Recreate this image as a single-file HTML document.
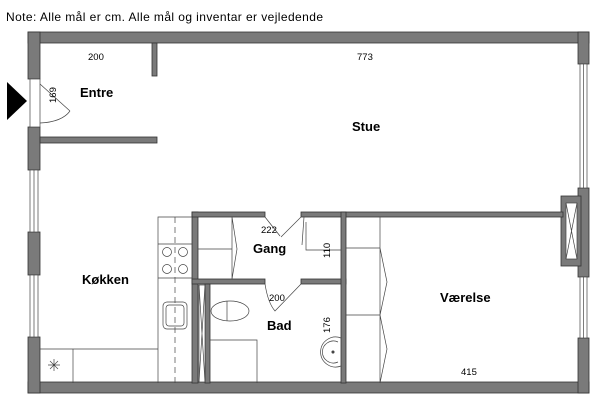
<!DOCTYPE html>
<html><head><style>
body{margin:0;background:#fff;width:600px;height:403px;overflow:hidden}
svg text{font-family:"Liberation Sans",sans-serif}
</style></head><body>
<svg width="600" height="403" viewBox="0 0 600 403" xmlns="http://www.w3.org/2000/svg">
<text x="6" y="21" font-size="12" textLength="317" lengthAdjust="spacing">Note: Alle mål er cm. Alle mål og inventar er vejledende</text>
<g fill="#7a7a7a" stroke="#333" stroke-width="0.8">
<rect x="28" y="32" width="561" height="11"/>
<rect x="28" y="382" width="561" height="11"/>
<rect x="28" y="32" width="12" height="47"/>
<rect x="28" y="127" width="12" height="43"/>
<rect x="28" y="232" width="12" height="43"/>
<rect x="28" y="337" width="12" height="56"/>
<rect x="578" y="32" width="11" height="32"/>
<rect x="578" y="188" width="11" height="89"/>
<rect x="578" y="338" width="11" height="55"/>
<rect x="561" y="196" width="20" height="70"/>
<rect x="152" y="43" width="5" height="33"/>
<rect x="40" y="137" width="117" height="6"/>
<rect x="192" y="212" width="6" height="171"/>
<rect x="192" y="212" width="73" height="5"/>
<rect x="301" y="212" width="262" height="5"/>
<rect x="192" y="279" width="73" height="5"/>
<rect x="301" y="279" width="45" height="5"/>
<rect x="341" y="212" width="5" height="171"/>
<rect x="205" y="284" width="5" height="99"/>
</g>
<g fill="#fff" stroke="#444" stroke-width="0.7">
<rect x="566" y="203" width="11" height="56"/>
<rect x="199" y="285" width="6" height="97"/>
<rect x="30" y="170" width="8" height="62"/><rect x="30" y="275" width="8" height="62"/>
<rect x="580" y="64" width="7" height="124"/><rect x="580" y="277" width="7" height="61"/>
<rect x="30" y="79" width="10" height="48"/>
</g>
<g fill="none" stroke="#444" stroke-width="0.7">
<line x1="34" y1="170" x2="34" y2="232"/><line x1="34" y1="275" x2="34" y2="337"/>
<line x1="583.5" y1="64" x2="583.5" y2="188"/><line x1="583.5" y1="277" x2="583.5" y2="338"/>
<path d="M566 203L577 259M577 203L566 259M199 285L205 382M205 285L199 382"/>
<path d="M40 84L70 111M40 123Q62 122 70 111"/>
<path d="M158 383V217H192M158 244H192M158 278H192M40 349H158M73 349V383"/>
<line x1="175" y1="217" x2="175" y2="383" stroke-dasharray="6,4"/>
<circle cx="167" cy="252" r="4.5"/><circle cx="183" cy="252" r="4.5"/>
<circle cx="167" cy="269" r="4.5"/><circle cx="183" cy="269" r="4.5"/>
<rect x="163" y="302" width="24" height="27" rx="4"/><rect x="166" y="305" width="18" height="21" rx="3"/>
<path d="M48 365h12M54 359v12M50 361l8 8M58 361l-8 8"/>
<path d="M198 249H232M232 217V279M232 217L237 249L232 279"/>
<path d="M265 217L280 236M301 217L281 237M304 217L302 245M306 222V250H341"/>
<path d="M265 284Q268 303 275 311L301 284"/>
<ellipse cx="230" cy="311" rx="19" ry="10"/><line x1="227" y1="301" x2="227" y2="321"/>
<path d="M210 340H257V383"/>
<path d="M341 338A15 15 0 1 0 341 366"/><path d="M338 342A11 11 0 1 0 338 362"/><circle cx="333" cy="352" r="1.2" fill="#444"/>
<path d="M346 248H380M346 315H380M380 217V383M380 248L387 282L380 315L387 349L380 383"/>
</g>
<polygon points="7,82 27,101 7,120" fill="#000"/>
<g font-size="9.5" fill="#000">
<text x="88" y="60">200</text>
<text x="357" y="60">773</text>
<text x="261" y="233">222</text>
<text x="269" y="301">200</text>
<text x="461" y="375">415</text>
<text transform="translate(56,103) rotate(-90)">169</text>
<text transform="translate(330,258) rotate(-90)">110</text>
<text transform="translate(330,333) rotate(-90)">176</text>
</g>
<g font-size="13" font-weight="bold" fill="#000">
<text x="80" y="97">Entre</text>
<text x="352" y="131">Stue</text>
<text x="253" y="253">Gang</text>
<text x="82" y="284">Køkken</text>
<text x="267" y="330">Bad</text>
<text x="440" y="302">Værelse</text>
</g>
</svg>
</body></html>
